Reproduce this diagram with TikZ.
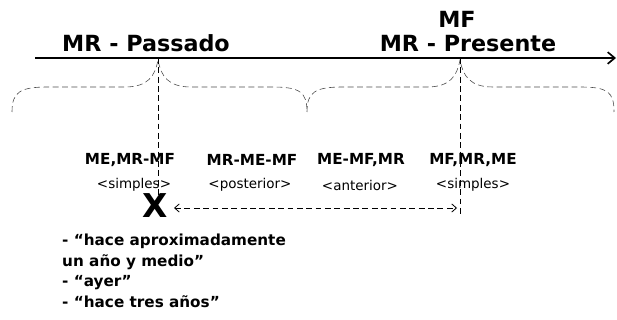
\documentclass[tikz,border=0pt]{standalone}
\usepackage{fontspec}
\setmainfont{DejaVu Sans}
\usetikzlibrary{arrows.meta,positioning}

\begin{document}
\begin{tikzpicture}[x=0.03cm, y=-0.03cm, node distance = 1cm,
                    title/.style = {font=\fontsize{19}{21}\selectfont\bfseries, inner sep=1pt},
                    rel/.style = {font=\fontsize{13}{15}\selectfont\bfseries, inner sep=1pt},
                    kind/.style = {font=\fontsize{11.5}{13}\selectfont, inner sep=1pt},
                    dashline/.style = {dash pattern=on 5pt off 3pt, line width=0.5pt},
                    brc/.style = {dash pattern=on 5pt off 3pt, line width=0.5pt, black!70}]
\useasboundingbox (0,0) rectangle (617,320);
% time axis
\coordinate (start) at (35,58);
\coordinate (end) at (616,58);
\draw[line width=1.4pt, -{Straight Barb[length=6pt, width=10pt, line width=1.4pt]}] (start) -- (end);
\node[title, anchor=base] (past) at (146,52) {MR - Passado};
\node[title, anchor=base] (present) at (468,52) {MR - Presente};
\node[title, anchor=base] (mf) at (457,28) {MF};
% braces
\draw[brc] (12,112) .. controls (12,92) and (20,87) .. (48,87) -- (125,87)
           .. controls (148,87) and (155,76) .. (158,60) .. controls (161,76) and (168,87) .. (191,87)
           -- (272,87) .. controls (300,87) and (307,92) .. (307,112);
\draw[brc] (307,112) .. controls (307,92) and (315,87) .. (343,87) -- (427,87)
           .. controls (450,87) and (457,76) .. (460,60) .. controls (463,76) and (470,87) .. (493,87)
           -- (580,87) .. controls (608,87) and (614,92) .. (614,112);
% points of reference
\coordinate (rpast) at (158,58);
\coordinate (rpres) at (460,58);
\coordinate (rpastend) at (158,216);
\coordinate (rpresend) at (460,216);
\draw[dashline] (rpast) -- (rpastend);
\draw[dashline] (rpres) -- (rpresend);
% relations
\node[rel] (r1) at (130,160) {ME,MR-MF};
\node[rel] (r2) at (252,160) {MR-ME-MF};
\node[rel] (r3) at (361,160) {ME-MF,MR};
\node[rel] (r4) at (473,160) {MF,MR,ME};
\node[kind] (k1) at (134,185) {<simples>};
\node[kind] (k2) at (250,185) {<posterior>};
\node[kind] (k3) at (360,185) {<anterior>};
\node[kind] (k4) at (473,185) {<simples>};
% event
\node[font=\fontsize{28}{28}\selectfont\bfseries, inner sep=0pt] (x) at (155,206) {X};
\coordinate (xstart) at (174,208);
\coordinate (xend) at (457,208);
\draw[dashline, line width=0.7pt, {Straight Barb[length=4pt, width=7pt]}-{Straight Barb[length=4pt, width=7pt]}] (xstart) -- (xend);
\node[font=\fontsize{13}{17.5}\selectfont\bfseries, align=left, anchor=north west, inner sep=0pt] (adv) at (62,234)
  {- “hace aproximadamente\\un año y medio”\\- “ayer”\\- “hace tres años”};
\end{tikzpicture}
\end{document}
